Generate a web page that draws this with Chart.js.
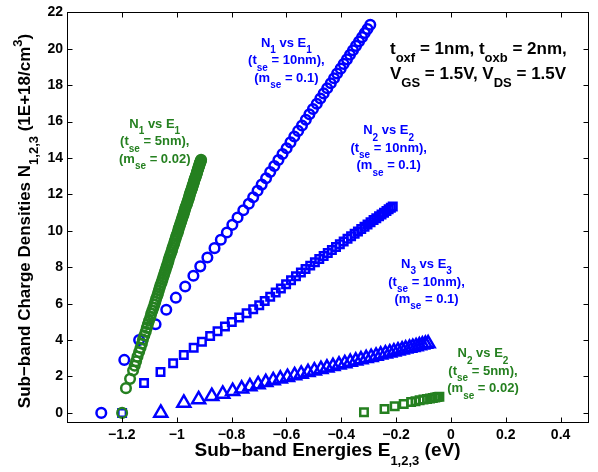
<!DOCTYPE html>
<html>
<head>
<meta charset="utf-8">
<title>Sub-band charge densities vs energies</title>
<script src="https://cdn.jsdelivr.net/npm/chart.js@4.4.1/dist/chart.umd.min.js"></script>
<style>
  html, body { margin: 0; padding: 0; background: #fff; }
  #wrap { width: 598px; height: 472px; }
</style>
</head>
<body>
<div id="wrap"><canvas id="chart" width="598" height="472"></canvas></div>
<script>
// N1 vs E1, tse = 10nm, mse = 0.1
const n1WideE = [-1.275, -1.191, -1.137, -1.077, -1.038, -1.003, -0.969, -0.939, -0.914, -0.888,
  -0.862, -0.839, -0.817, -0.797, -0.778, -0.757, -0.737,
  -0.721, -0.705, -0.690, -0.674, -0.659, -0.644, -0.629, -0.614, -0.599, -0.585,
  -0.571, -0.557, -0.543, -0.529, -0.516, -0.503, -0.489, -0.476, -0.464, -0.451,
  -0.438, -0.426, -0.415, -0.402, -0.391, -0.379, -0.368, -0.357, -0.346, -0.335,
  -0.324, -0.314, -0.304, -0.294];
const n1WideN = [0, 2.91, 4.00, 4.87, 5.67, 6.33, 6.94, 7.53, 8.05, 8.54,
  9.05, 9.51, 9.91, 10.33, 10.73, 11.13, 11.49,
  11.85, 12.20, 12.54, 12.89, 13.23, 13.56, 13.89, 14.22, 14.54, 14.86,
  15.18, 15.49, 15.79, 16.10, 16.40, 16.69, 16.98, 17.27, 17.55, 17.83,
  18.11, 18.38, 18.64, 18.91, 19.17, 19.42, 19.67, 19.92, 20.16, 20.40,
  20.64, 20.87, 21.09, 21.32];

// N2 vs E2, tse = 10nm, mse = 0.1
const n2WideE = [-1.199, -1.119, -1.059, -1.013, -0.974, -0.938, -0.908, -0.878, -0.851, -0.824,
  -0.799, -0.772, -0.745, -0.721, -0.699, -0.679,
  -0.659, -0.639, -0.620, -0.601, -0.583, -0.565, -0.547, -0.530, -0.513, -0.496,
  -0.480, -0.464, -0.449, -0.434, -0.419, -0.405, -0.391, -0.377, -0.364, -0.351,
  -0.339, -0.327, -0.315, -0.304, -0.293, -0.282, -0.272, -0.262, -0.253, -0.244,
  -0.235, -0.227, -0.219, -0.212];
const n2WideN = [0, 1.64, 2.24, 2.73, 3.18, 3.58, 3.91, 4.22, 4.49, 4.75,
  4.99, 5.24, 5.48, 5.70, 5.92, 6.14,
  6.38, 6.62, 6.84, 7.07, 7.28, 7.50, 7.71, 7.91, 8.09, 8.28,
  8.45, 8.62, 8.78, 8.95, 9.11, 9.26, 9.41, 9.56, 9.70, 9.84,
  9.97, 10.10, 10.23, 10.35, 10.47, 10.59, 10.69, 10.80, 10.90, 11.00,
  11.09, 11.18, 11.27, 11.34];

// N3 vs E3, tse = 10nm, mse = 0.1
const n3WideE = [-1.058, -0.974, -0.920, -0.872, -0.832, -0.796, -0.763, -0.733, -0.703, -0.675,
  -0.648, -0.622, -0.596, -0.570, -0.546, -0.521, -0.498, -0.474, -0.452, -0.430,
  -0.408, -0.387, -0.367, -0.347, -0.328, -0.309, -0.291, -0.273, -0.256, -0.239,
  -0.223, -0.208, -0.193, -0.178, -0.165, -0.151, -0.139, -0.127, -0.115, -0.104,
  -0.093, -0.083];
const n3WideN = [0, 0.55, 0.74, 0.92, 1.04, 1.19, 1.32, 1.45, 1.56, 1.68,
  1.78, 1.87, 1.96, 2.06, 2.14, 2.23, 2.32, 2.40, 2.48, 2.56,
  2.64, 2.72, 2.79, 2.86, 2.93, 3.00, 3.06, 3.13, 3.19, 3.25,
  3.31, 3.36, 3.42, 3.47, 3.52, 3.57, 3.61, 3.65, 3.70, 3.74,
  3.78, 3.81];

// N1 vs E1, tse = 5nm, mse = 0.02
const n1ThinE = [-1.199, -1.185, -1.170, -1.159,
  -1.153, -1.148, -1.143, -1.137, -1.132, -1.127, -1.123, -1.118, -1.113, -1.109,
  -1.105, -1.101, -1.096, -1.093, -1.089, -1.085, -1.081, -1.078,
  -1.075, -1.071, -1.068, -1.065, -1.062, -1.059, -1.055, -1.052, -1.049, -1.046,
  -1.043, -1.040, -1.037, -1.034, -1.031, -1.029, -1.026, -1.023, -1.020, -1.017,
  -1.015, -1.012, -1.009, -1.007, -1.004, -1.002, -0.999, -0.996, -0.994, -0.992,
  -0.989, -0.987, -0.984, -0.982, -0.980, -0.977, -0.975, -0.973, -0.971, -0.969,
  -0.967, -0.964, -0.962, -0.960, -0.958, -0.956, -0.954, -0.953, -0.951, -0.949,
  -0.947, -0.945, -0.943, -0.942, -0.940, -0.938, -0.937, -0.935, -0.934, -0.932,
  -0.930, -0.929, -0.927, -0.926, -0.925, -0.923, -0.922, -0.921, -0.919, -0.918,
  -0.917, -0.916, -0.915, -0.913, -0.912, -0.911];
const n1ThinN = [0, 1.36, 1.87, 2.33,
  2.59, 2.84, 3.09, 3.34, 3.57, 3.80, 4.03, 4.25, 4.46, 4.67,
  4.87, 5.06, 5.25, 5.44, 5.61, 5.78, 5.95, 6.11,
  6.27, 6.42, 6.57, 6.72, 6.87, 7.02, 7.17, 7.31, 7.46, 7.60,
  7.74, 7.88, 8.02, 8.15, 8.29, 8.42, 8.56, 8.69, 8.82, 8.94,
  9.07, 9.20, 9.32, 9.44, 9.57, 9.69, 9.80, 9.92, 10.04, 10.15,
  10.26, 10.38, 10.49, 10.60, 10.70, 10.81, 10.91, 11.02, 11.12, 11.22,
  11.32, 11.42, 11.51, 11.61, 11.70, 11.79, 11.88, 11.97, 12.06, 12.15,
  12.23, 12.31, 12.40, 12.48, 12.56, 12.63, 12.71, 12.79, 12.86, 12.93,
  13.00, 13.07, 13.14, 13.21, 13.27, 13.34, 13.40, 13.46, 13.52, 13.58,
  13.64, 13.69, 13.75, 13.80, 13.85, 13.90];

// N2 vs E2, tse = 5nm, mse = 0.02
const n2ThinE = [-0.317, -0.242, -0.205, -0.172, -0.145, -0.129, -0.114, -0.100, -0.087, -0.076,
  -0.066, -0.057, -0.049, -0.042];
const n2ThinN = [0.03, 0.22, 0.36, 0.49, 0.60, 0.64, 0.69, 0.73, 0.76, 0.79,
  0.82, 0.85, 0.87, 0.89];

const xTicks = [-1.2, -1, -0.8, -0.6, -0.4, -0.2, 0, 0.2, 0.4];
const yTicks = [0, 2, 4, 6, 8, 10, 12, 14, 16, 18, 20, 22];

const BLUE = '#0000ff';
const GREEN = '#258020';
const FONT = "'Liberation Sans', Arial, Helvetica, sans-serif";

const xTitle = 'Sub\u2212band Energies E_{1,2,3} (eV)';
const yTitle = 'Sub\u2212band Charge Densities N_{1,2,3} (1E+18/cm^{3})';

// text blocks placed in data units (x = energy, y = density of first line)
const notes = [
  { lines: ['N_{1} vs E_{1}', '(t_{se} = 10nm),', '(m_{se} = 0.1)'], at: [-0.600, 20.3], color: BLUE },
  { lines: ['N_{2} vs E_{2}', '(t_{se} = 10nm),', '(m_{se} = 0.1)'], at: [-0.227, 15.5], color: BLUE },
  { lines: ['N_{3} vs E_{3}', '(t_{se} = 10nm),', '(m_{se} = 0.1)'], at: [-0.089, 8.15], color: BLUE },
  { lines: ['N_{1} vs E_{1}', '(t_{se} = 5nm),', '(m_{se} = 0.02)'], at: [-1.080, 15.85], color: GREEN },
  { lines: ['N_{2} vs E_{2}', '(t_{se} = 5nm),', '(m_{se} = 0.02)'], at: [0.117, 3.25], color: GREEN }
];
const conditions = ['t_{oxf} = 1nm, t_{oxb} = 2nm,', 'V_{GS} = 1.5V, V_{DS} = 1.5V'];

const pairs = (xs, ys) => xs.map((x, i) => ({ x, y: ys[i] }));
const fmt = v => String(v).replace('-', '\u2212');

// split "a_{b}c^{d}" into plain / subscript / superscript runs
function richParts(str) {
  const parts = [];
  const re = /([_^])\{([^}]*)\}/g;
  let last = 0, m;
  while ((m = re.exec(str))) {
    if (m.index > last) parts.push({ text: str.slice(last, m.index), kind: 0 });
    parts.push({ text: m[2], kind: m[1] === '_' ? 1 : 2 });
    last = re.lastIndex;
  }
  if (last < str.length) parts.push({ text: str.slice(last), kind: 0 });
  return parts;
}

function drawRich(ctx, str, x, y, size, subSize, align) {
  const parts = richParts(str);
  const fontFor = k => `bold ${k ? subSize : size}px ${FONT}`;
  let total = 0;
  parts.forEach(p => {
    ctx.font = fontFor(p.kind);
    p.w = ctx.measureText(p.text).width;
    total += p.w;
  });
  let cx = align === 'center' ? x - total / 2 : x;
  ctx.textAlign = 'left';
  ctx.textBaseline = 'middle';
  parts.forEach(p => {
    ctx.font = fontFor(p.kind);
    const dy = p.kind === 1 ? size * 0.55 : p.kind === 2 ? -size * 0.4 : 0;
    ctx.fillText(p.text, cx, y + dy);
    cx += p.w;
  });
}

// box, inward tick marks, titles and annotations
const decorations = {
  id: 'decorations',
  afterDraw(chart) {
    const { ctx, chartArea: a, scales: { x, y } } = chart;
    const L = Math.round(a.left) + 0.5, R = Math.round(a.right) + 0.5;
    const T = Math.round(a.top) + 0.5, B = Math.round(a.bottom) + 0.5;
    const tl = 5;
    ctx.save();
    ctx.strokeStyle = '#000';
    ctx.lineWidth = 1;
    ctx.strokeRect(L, T, R - L, B - T);
    ctx.beginPath();
    xTicks.forEach(v => {
      const px = Math.round(x.getPixelForValue(v)) + 0.5;
      ctx.moveTo(px, B); ctx.lineTo(px, B - tl);
      ctx.moveTo(px, T); ctx.lineTo(px, T + tl);
    });
    yTicks.forEach(v => {
      const py = Math.round(y.getPixelForValue(v)) + 0.5;
      ctx.moveTo(L, py); ctx.lineTo(L + tl, py);
      ctx.moveTo(R, py); ctx.lineTo(R - tl, py);
    });
    ctx.stroke();

    ctx.fillStyle = '#000';
    drawRich(ctx, xTitle, (a.left + a.right) / 2, 451, 19, 13, 'center');
    ctx.save();
    ctx.translate(25, 221);
    ctx.rotate(-Math.PI / 2);
    drawRich(ctx, yTitle, 0, 0, 17, 13, 'center');
    ctx.restore();

    notes.forEach(n => {
      ctx.fillStyle = n.color;
      const px = x.getPixelForValue(n.at[0]);
      const py = y.getPixelForValue(n.at[1]);
      n.lines.forEach((line, i) => drawRich(ctx, line, px, py + i * 17.5, 13, 10, 'center'));
    });

    ctx.fillStyle = '#000';
    const cx = x.getPixelForValue(-0.222);
    const cy = y.getPixelForValue(19.98);
    conditions.forEach((line, i) => drawRich(ctx, line, cx, cy + i * 25, 17, 13, 'left'));
    ctx.restore();
  }
};

const marker = (color, style, radius) => ({
  pointStyle: style,
  pointRadius: radius,
  pointBorderColor: color,
  pointBackgroundColor: 'rgba(0,0,0,0)',
  pointBorderWidth: 2.5,
  showLine: false
});

new Chart(document.getElementById('chart'), {
  type: 'scatter',
  data: {
    datasets: [
      { label: 'N1 vs E1 (5nm)', data: pairs(n1ThinE, n1ThinN), order: 0, ...marker(GREEN, 'circle', 4.8) },
      { label: 'N2 vs E2 (10nm)', data: pairs(n2WideE, n2WideN), order: 1, ...marker(BLUE, 'rect', 5.3) },
      { label: 'N3 vs E3 (10nm)', data: pairs(n3WideE, n3WideN), order: 1, ...marker(BLUE, 'triangle', 7.5) },
      { label: 'N2 vs E2 (5nm)', data: pairs(n2ThinE, n2ThinN), order: 1, ...marker(GREEN, 'rect', 5.3) },
      { label: 'N1 vs E1 (10nm)', data: pairs(n1WideE, n1WideN), order: 2, ...marker(BLUE, 'circle', 4.8) }
    ]
  },
  options: {
    responsive: false,
    devicePixelRatio: 1,
    animation: false,
    events: [],
    layout: { padding: { top: 10, right: 8, left: 0, bottom: 0 } },
    plugins: {
      legend: { display: false },
      tooltip: { enabled: false }
    },
    scales: {
      x: {
        type: 'linear',
        min: -1.4,
        max: 0.5,
        grid: { display: false, drawTicks: false },
        border: { display: false },
        afterBuildTicks: s => { s.ticks = xTicks.map(v => ({ value: v })); },
        afterFit: s => { s.height = 50; },
        ticks: {
          color: '#000',
          padding: 5,
          autoSkip: false,
          maxRotation: 0,
          font: { family: FONT, size: 14, weight: 'bold' },
          callback: v => fmt(v)
        }
      },
      y: {
        type: 'linear',
        min: -0.5,
        max: 22,
        grid: { display: false, drawTicks: false },
        border: { display: false },
        afterBuildTicks: s => { s.ticks = yTicks.map(v => ({ value: v })); },
        afterFit: s => { s.width = 67; },
        ticks: {
          color: '#000',
          padding: 4,
          autoSkip: false,
          font: { family: FONT, size: 14, weight: 'bold' },
          callback: v => fmt(v)
        }
      }
    }
  },
  plugins: [decorations]
});
</script>
</body>
</html>
